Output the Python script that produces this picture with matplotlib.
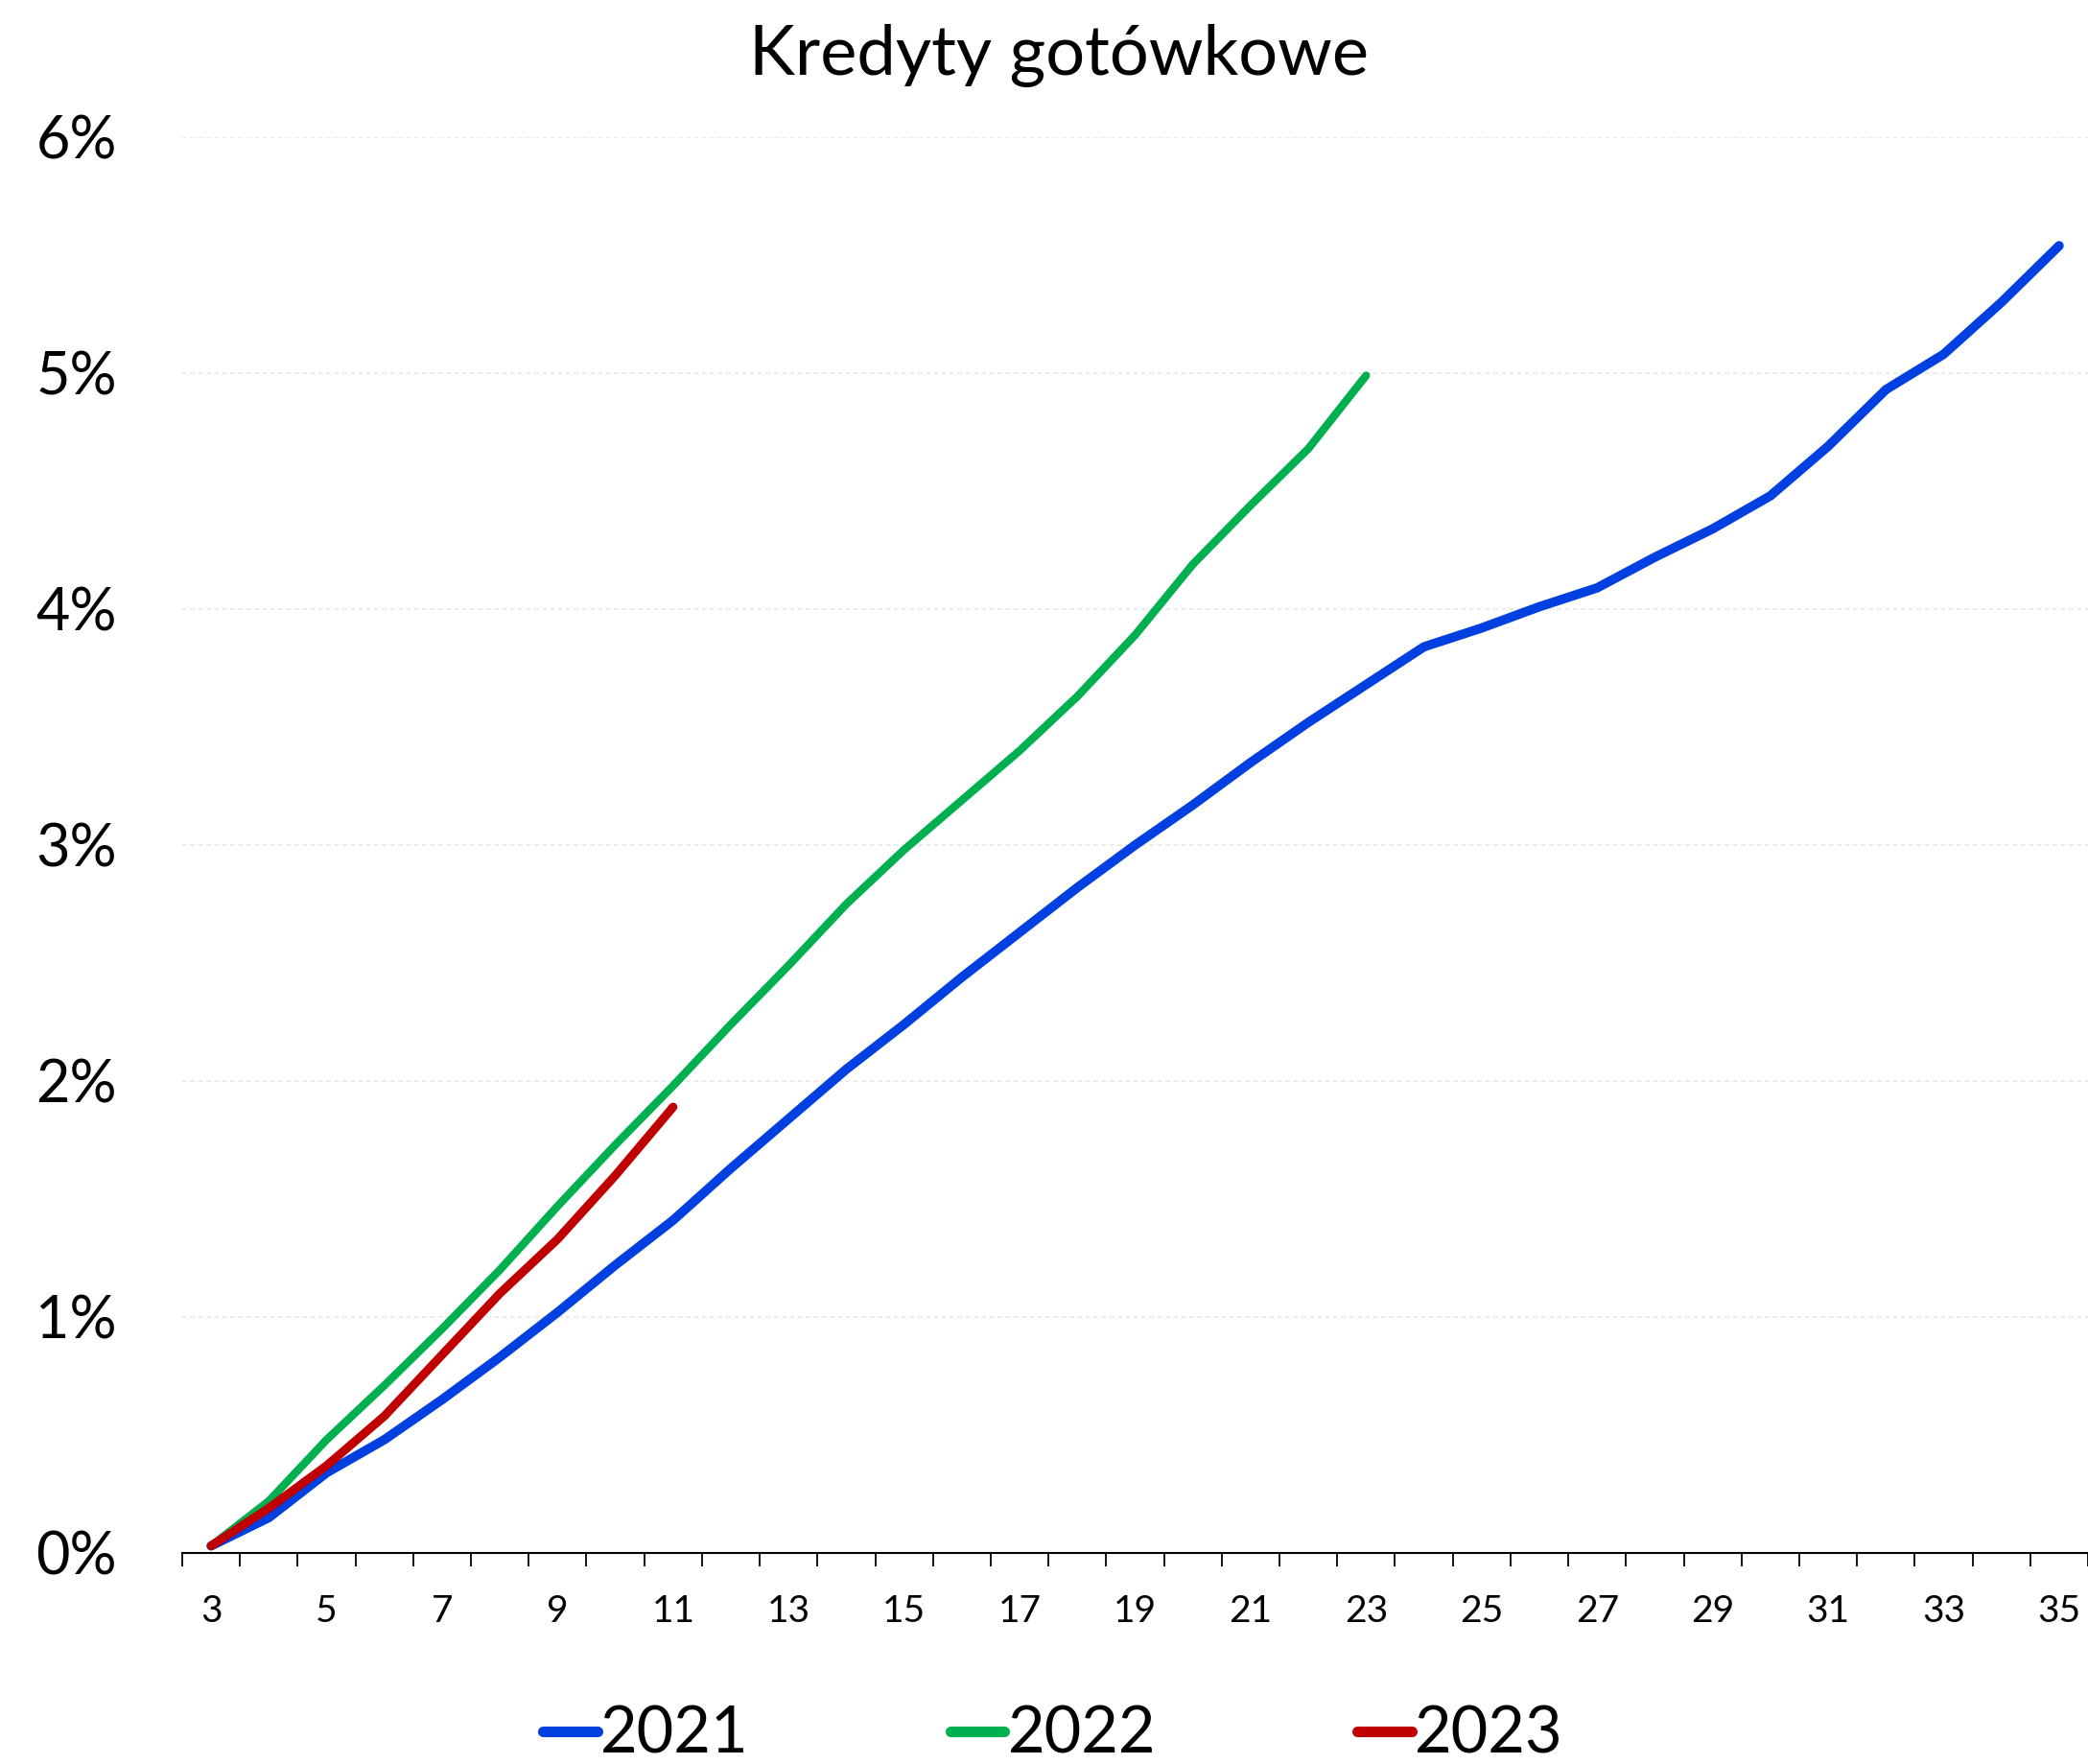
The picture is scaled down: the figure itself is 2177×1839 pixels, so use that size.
import matplotlib
matplotlib.use("Agg")
import matplotlib.pyplot as plt
from matplotlib.ticker import FixedLocator, FuncFormatter

plt.rcParams['font.family'] = ['Lato', 'DejaVu Sans']

weeks = list(range(3, 36))
s2021 = [0.03, 0.15, 0.34, 0.48, 0.65, 0.83, 1.02, 1.22, 1.41, 1.63, 1.84, 2.05, 2.24,
         2.44, 2.63, 2.82, 3.00, 3.17, 3.35, 3.52, 3.68, 3.84, 3.92, 4.01, 4.09, 4.22,
         4.34, 4.48, 4.69, 4.93, 5.08, 5.30, 5.54]
s2022 = [0.03, 0.22, 0.48, 0.71, 0.95, 1.20, 1.47, 1.73, 1.98, 2.24, 2.49, 2.75, 2.98,
         3.19, 3.40, 3.63, 3.89, 4.19, 4.44, 4.68, 4.99]
s2023 = [0.03, 0.19, 0.37, 0.58, 0.84, 1.10, 1.33, 1.60, 1.89]
labels = ['2021', '2022', '2023']
colors = ['#0040E0', '#00B050', '#C00000']
title = 'Kredyty gotówkowe'
yticks = [0, 1, 2, 3, 4, 5, 6]
xticks = list(range(3, 36, 2))

W, H = 2177, 1839
fig = plt.figure(figsize=(W / 100, H / 100), dpi=100)
ax = fig.add_axes([190 / W, 1 - 1619 / H, (W - 190) / W, (1619 - 143) / H])

series = [s2021, s2022, s2023]
lws = [7, 6, 6.5]
for s, lab, c, lw in zip(series, labels, colors, lws):
    ax.plot(weeks[:len(s)], s, color=c, lw=lw, label=lab,
            solid_capstyle='round', solid_joinstyle='round')

ax.set_xlim(weeks[0] - 0.5, weeks[-1] + 0.5)
ax.set_ylim(0, 6)
ax.yaxis.set_major_locator(FixedLocator(yticks))
ax.yaxis.set_major_formatter(FuncFormatter(lambda v, p: f'{v:.0f}%'))
ax.xaxis.set_major_locator(FixedLocator(xticks))
ax.xaxis.set_minor_locator(FixedLocator([w - 0.5 for w in weeks] + [weeks[-1] + 0.5]))
ax.tick_params(axis='x', which='major', length=0, labelsize=28, pad=31)
ax.tick_params(axis='x', which='minor', length=10, width=1.3, color='black')
ax.tick_params(axis='y', length=0, labelsize=44, pad=49)
for lbl in ax.get_yticklabels():
    lbl.set_horizontalalignment('right')

ax.grid(axis='y', color='#E6E6E6', lw=1.2, ls=(0, (3, 2)))
ax.set_axisbelow(True)
for sp in ['left', 'right', 'top']:
    ax.spines[sp].set_visible(False)
ax.spines['bottom'].set_color('black')
ax.spines['bottom'].set_linewidth(1.5)

fig.text(1104 / W, 1 - 58 / H, title, ha='center', va='center', fontsize=52)

leg = fig.legend(loc='center', bbox_to_anchor=(1098 / W, 1 - 1809 / H), ncol=3,
                 frameon=False, fontsize=48, handlelength=0.85, handletextpad=0.05,
                 columnspacing=3.15, borderaxespad=0)
for h in leg.get_lines():
    h.set_linewidth(8)
    h.set_solid_capstyle('round')

fig.savefig('out.png', dpi=100, facecolor='white')
